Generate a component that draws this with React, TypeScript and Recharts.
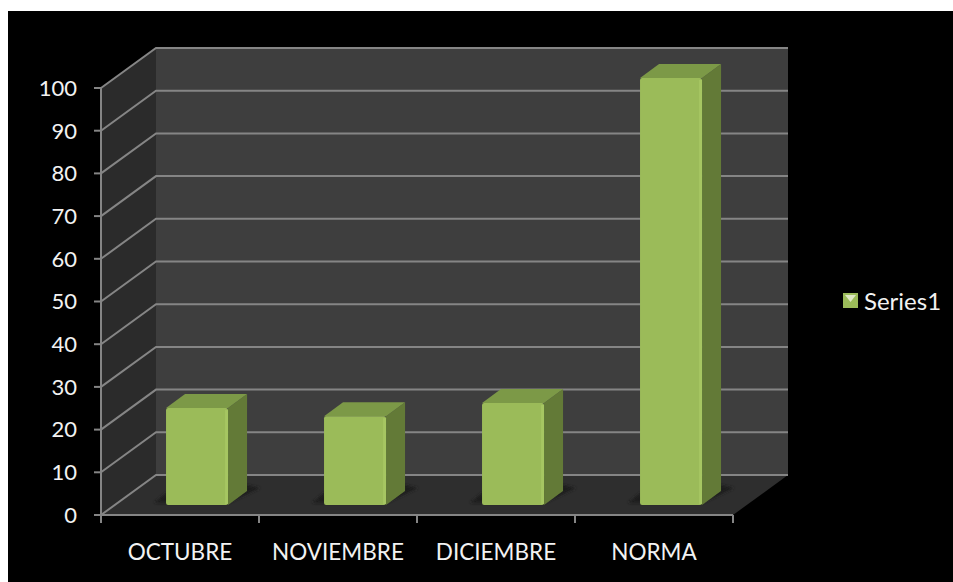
import { Bar, BarChart, CartesianGrid, Rectangle, XAxis, YAxis } from "recharts";

const categories = ["OCTUBRE", "NOVIEMBRE", "DICIEMBRE", "NORMA"];
const series1 = [22.7, 20.8, 23.9, 100];
const yTicks = [0, 10, 20, 30, 40, 50, 60, 70, 80, 90, 100];

const chartData = categories.map((name, i) => ({ name, value: series1[i] }));

// how far the back wall sits behind the axes
const DEPTH_X = 55;
const DEPTH_Y = 40;
// bars stand part way into the floor, and have their own depth
const BAR_SHIFT_X = 17;
const BAR_SHIFT_Y = 10;
const BAR_DEPTH_X = 19;
const BAR_DEPTH_Y = 14;

const LINE = "#858585";
const TEXT = "#f2f2f2";
const FONT = "Lato, 'Open Sans', sans-serif";

function GridLine(props: any) {
  const { x1, x2, y1, index, x, y, width, height } = props;
  const floorY = y + height;
  return (
    <g>
      {index === 0 && (
        <g>
          <polygon
            points={`${x},${y} ${x + DEPTH_X},${y - DEPTH_Y} ${x + DEPTH_X},${floorY - DEPTH_Y} ${x},${floorY}`}
            fill="#2b2b2b"
          />
          <rect x={x + DEPTH_X} y={y - DEPTH_Y} width={width} height={height} fill="#3e3e3e" />
          <polygon
            points={`${x},${floorY} ${x + DEPTH_X},${floorY - DEPTH_Y} ${x + width + DEPTH_X},${floorY - DEPTH_Y} ${x + width},${floorY}`}
            fill="#2e2e2e"
          />
        </g>
      )}
      <polyline
        points={`${x1},${y1} ${x1 + DEPTH_X},${y1 - DEPTH_Y} ${x2 + DEPTH_X},${y1 - DEPTH_Y}`}
        fill="none"
        stroke={LINE}
        strokeWidth={2}
      />
    </g>
  );
}

function Box3D(props: any) {
  const { x, y, width, height } = props;
  const left = x + BAR_SHIFT_X;
  const top = y - BAR_SHIFT_Y;
  const right = left + width;
  const bottom = top + height;
  const dx = BAR_DEPTH_X;
  const dy = BAR_DEPTH_Y;
  return (
    <g>
      <polygon
        points={`${left - 12},${bottom - 2} ${right},${bottom - 2} ${right + dx + 13},${bottom - dy - 3} ${right + dx},${bottom - dy - 6} ${left},${bottom - 12}`}
        fill="#1e1e1e"
        filter="url(#floorShadow)"
      />
      <polygon
        points={`${right},${top} ${right + dx},${top - dy} ${right + dx},${bottom - dy} ${right},${bottom}`}
        fill="#637a37"
      />
      <polygon
        points={`${left},${top} ${left + dx},${top - dy} ${right + dx},${top - dy} ${right},${top}`}
        fill="#7c9947"
      />
      <Rectangle x={left} y={top} width={width} height={height} radius={2} fill="#9bbb59" />
      <rect x={right - 3} y={top + 2} width={3} height={height - 3} fill="#a6c662" />
    </g>
  );
}

// ticks sit on the category boundaries, labels in the middle
function CategoryTick(props: any) {
  const { x, y, index, payload } = props;
  const band = props.width / categories.length;
  const edge = x - band / 2;
  return (
    <g>
      <line x1={edge} y1={y - 8} x2={edge} y2={y} stroke={LINE} strokeWidth={2} />
      {index === categories.length - 1 && (
        <line x1={edge + band} y1={y - 8} x2={edge + band} y2={y} stroke={LINE} strokeWidth={2} />
      )}
      <text x={x} y={y + 37} textAnchor="middle" fill={TEXT} fontSize={22.5} fontFamily={FONT}>
        {payload.value}
      </text>
    </g>
  );
}

function LegendMark() {
  return (
    <div style={{ position: "absolute", left: 835, top: 275, display: "flex", alignItems: "center", color: TEXT, fontFamily: FONT, fontSize: 24 }}>
      <svg width={15} height={15} style={{ marginRight: 6 }}>
        <rect x={0} y={0} width={15} height={15} fill="#9bbb59" />
        <polygon points="2,2 13,2 7.5,9" fill="#dfe8c4" />
      </svg>
      Series1
    </div>
  );
}

export default function App() {
  return (
    <div style={{ position: "absolute", left: 8, top: 11, width: 945, height: 571, background: "#000" }}>
      <BarChart
        width={945}
        height={571}
        data={chartData}
        margin={{ top: 77, right: 220, bottom: 37, left: 0 }}
        barCategoryGap="30.4%"
      >
        <defs>
          <filter id="floorShadow" x="-20%" y="-60%" width="140%" height="220%">
            <feGaussianBlur stdDeviation="1.5" />
          </filter>
        </defs>
        <CartesianGrid horizontal={GridLine} vertical={false} />
        <XAxis
          dataKey="name"
          height={30}
          stroke={LINE}
          strokeWidth={2}
          tickLine={false}
          interval={0}
          tick={CategoryTick}
        />
        <YAxis
          domain={[0, 100]}
          ticks={yTicks}
          width={93}
          stroke={LINE}
          strokeWidth={2}
          tickSize={7}
          interval={0}
          tick={{ fill: TEXT, fontSize: 22, fontFamily: FONT, dx: -15 }}
        />
        <Bar dataKey="value" shape={Box3D} isAnimationActive={false} />
      </BarChart>
      <LegendMark />
    </div>
  );
}
